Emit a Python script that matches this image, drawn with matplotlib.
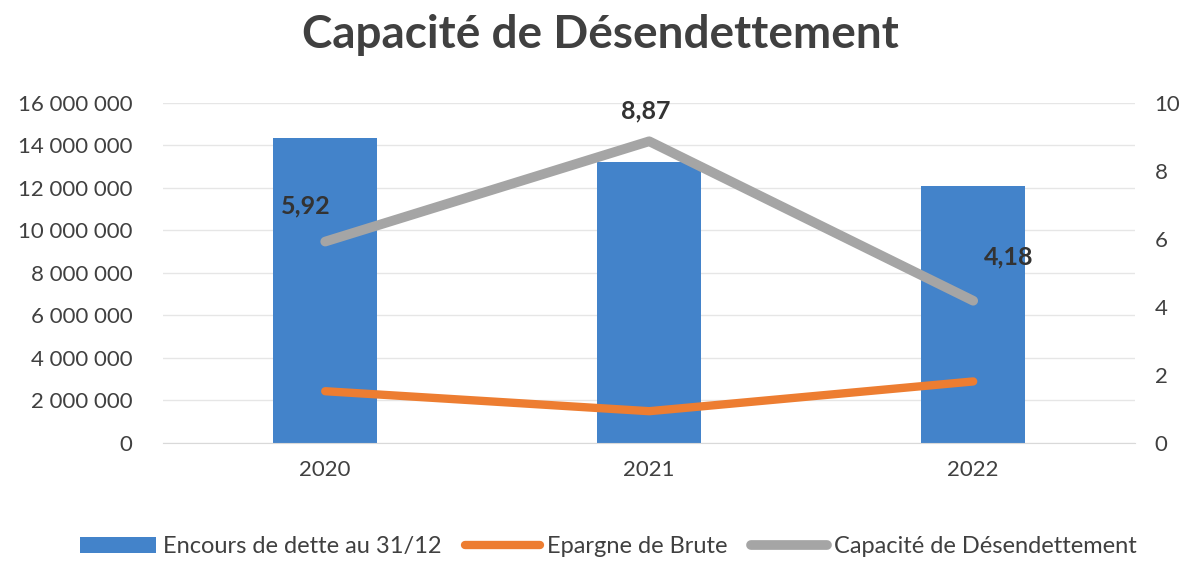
import matplotlib
matplotlib.use("Agg")
import matplotlib.pyplot as plt
import numpy as np

years = ["2020", "2021", "2022"]
encours = [14350000, 13200000, 12100000]
epargne = [2430000, 1490000, 2890000]
capacite = [5.92, 8.87, 4.18]
capacite_labels = ["5,92", "8,87", "4,18"]

plt.rcParams['font.family'] = ['Lato', 'DejaVu Sans']
txt = '#404040'

fig = plt.figure(figsize=(12, 5.62), dpi=100)
ax = fig.add_axes([0.136, 0.212, 0.810, 0.605])
x = np.arange(len(years))

bars = ax.bar(x, encours, width=0.32, color='#4383CA', label='Encours de dette au 31/12', zorder=2)
l_ep, = ax.plot(x, epargne, color='#ED7D31', lw=6, solid_capstyle='round',
                label='Epargne de Brute', zorder=3)
ax.set_ylim(0, 16000000)
ax.set_xlim(-0.5, 2.5)
ax.set_yticks(np.arange(0, 16000001, 2000000))
ax.set_yticklabels([f"{int(v):,}".replace(",", " ") for v in np.arange(0, 16000001, 2000000)])
ax.set_xticks(x)
ax.set_xticklabels(years)
ax.grid(axis='y', color='#e6e6e6', lw=1, zorder=0)
for s in ['top', 'right', 'left']:
    ax.spines[s].set_visible(False)
ax.spines['bottom'].set_color('#d9d9d9')
ax.tick_params(length=0, labelsize=16, colors=txt)
ax.tick_params(axis='x', pad=12)
ax.tick_params(axis='y', pad=22)

ax2 = ax.twinx()
l_cap, = ax2.plot(x, capacite, color='#A5A5A5', lw=7, solid_capstyle='round',
                  label='Capacité de Désendettement', zorder=3)
ax2.set_ylim(0, 10)
ax2.set_yticks(np.arange(0, 11, 2))
for s in ['top', 'right', 'left', 'bottom']:
    ax2.spines[s].set_visible(False)
ax2.tick_params(length=0, labelsize=16, colors=txt, pad=14)

offsets = [(-0.06, 1.05), (-0.01, 0.88), (0.11, 1.3)]
for xi, yi, lab, (dx, dy) in zip(x, capacite, capacite_labels, offsets):
    ax2.text(xi + dx, yi + dy, lab, ha='center', va='center', fontsize=18,
             color='#333333', fontweight='bold')

fig.text(0.5, 0.938, "Capacité de Désendettement", fontsize=33, fontweight='bold',
         color=txt, ha='center', va='center')

fig.legend([bars, l_ep, l_cap],
           ['Encours de dette au 31/12', 'Epargne de Brute', 'Capacité de Désendettement'],
           loc='center', ncol=3, frameon=False,
           fontsize=17, bbox_to_anchor=(0.507, 0.027), handlelength=3.2,
           columnspacing=1.0, handletextpad=0.3, labelcolor=txt)

fig.savefig("out.png", dpi=100)
